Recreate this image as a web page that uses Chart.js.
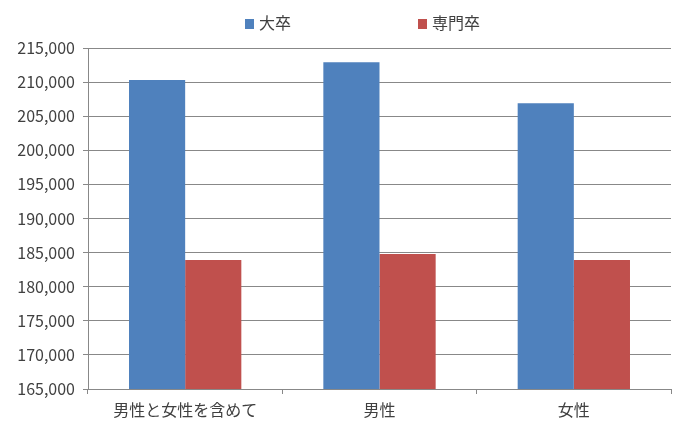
<!DOCTYPE html>
<html>
<head>
<meta charset="utf-8">
<script src="https://cdn.jsdelivr.net/npm/chart.js@4/dist/chart.umd.min.js"></script>
<style>
  body { margin: 0; background: #fff; }
</style>
</head>
<body>
<canvas id="graphCanvas" width="700" height="438"></canvas>
<script>
var categories = ['男性と女性を含めて', '男性', '女性'];
var seriesNames = ['大卒', '専門卒'];
var daisotsu = [210300, 212900, 206900];
var senmonsotsu = [183900, 184800, 183900];
var yTicks = [165000, 170000, 175000, 180000, 185000, 190000, 195000, 200000, 205000, 210000, 215000];

var fontName = '"Noto Sans CJK JP", "Noto Sans", sans-serif';
var textColor = '#404040';
var gridColor = '#888888';

// legend drawn by hand so the two items can sit far apart like the original
var topLegend = {
    id: 'topLegend',
    afterDraw: function (chart) {
        var ctx = chart.ctx;
        var xs = [245, 418];
        ctx.save();
        ctx.font = '16px ' + fontName;
        ctx.textBaseline = 'middle';
        ctx.textAlign = 'left';
        chart.data.datasets.forEach(function (ds, i) {
            ctx.fillStyle = ds.backgroundColor;
            ctx.fillRect(xs[i], 19, 9, 10);
            ctx.fillStyle = textColor;
            ctx.fillText(ds.label, xs[i] + 14, 23);
        });
        ctx.restore();
    }
};

var chartdata = {
    labels: categories,
    datasets: [
        {
            label: seriesNames[0],
            backgroundColor: '#4F81BD',
            data: daisotsu
        },
        {
            label: seriesNames[1],
            backgroundColor: '#C0504D',
            data: senmonsotsu
        }
    ]
};

var barGraph = new Chart(document.getElementById('graphCanvas'), {
    type: 'bar',
    data: chartdata,
    plugins: [topLegend],
    options: {
        responsive: false,
        animation: false,
        layout: { padding: { top: 48, right: 29, left: 10, bottom: 0 } },
        datasets: { bar: { categoryPercentage: 0.578, barPercentage: 1.0 } },
        plugins: {
            legend: { display: false },
            tooltip: { enabled: false }
        },
        scales: {
            x: {
                grid: { drawOnChartArea: false, drawTicks: true, tickLength: 5, color: gridColor, offset: true },
                border: { color: gridColor },
                ticks: { color: textColor, font: { family: fontName, size: 16 }, padding: 6 },
                afterFit: function (scale) { scale.height = 49; }
            },
            y: {
                min: 165000,
                max: 215000,
                grid: { color: gridColor, tickLength: 5 },
                border: { color: gridColor },
                afterBuildTicks: function (scale) {
                    scale.ticks = yTicks.map(function (v) { return { value: v }; });
                },
                ticks: {
                    color: textColor,
                    font: { family: fontName, size: 16 },
                    padding: 8,
                    callback: function (v) { return v.toLocaleString('en-US'); }
                },
                afterFit: function (scale) { scale.width = 78; }
            }
        }
    }
});
</script>
</body>
</html>
